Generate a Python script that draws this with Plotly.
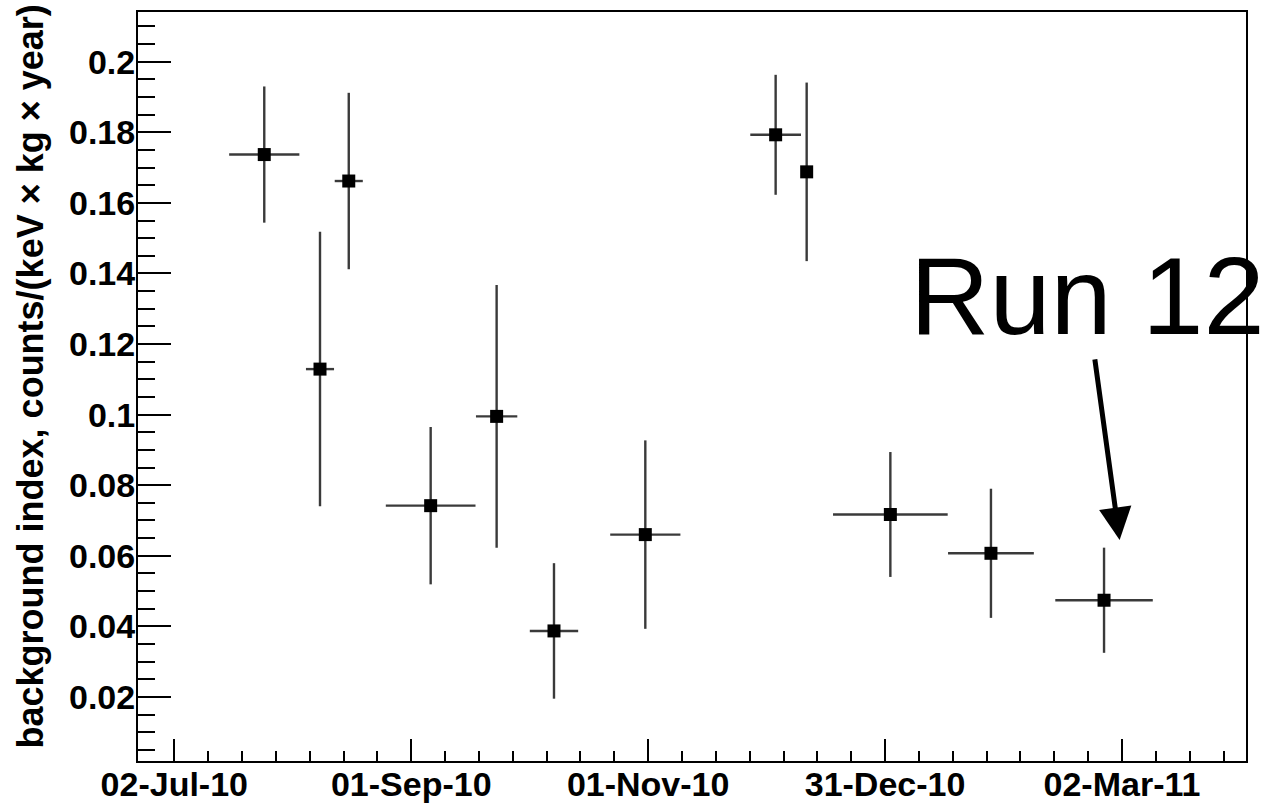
import pandas as pd
import plotly.graph_objects as go

# Run dates (bin centres) and half-widths of each run in days
run_dates = [
    "2010-07-25 16:00", "2010-08-08 23:00", "2010-08-16 08:00", "2010-09-06 08:00",
    "2010-09-23 06:00", "2010-10-07 23:00", "2010-10-31 09:00", "2010-12-03 19:00",
    "2010-12-11 18:00", "2011-01-02 05:00", "2011-01-28 00:00", "2011-02-26 00:00",
]
run_half_days = [9.0, 3.6, 3.6, 11.5, 5.3, 6.2, 9.0, 6.5, 0.4, 14.7, 11.0, 12.5]

# Background index and its uncertainty, counts/(keV x kg x year)
bkg_index = [0.1737, 0.1129, 0.1662, 0.0742, 0.0995, 0.0387,
             0.0660, 0.1793, 0.1688, 0.0717, 0.0607, 0.0474]
bkg_error = [0.0193, 0.0389, 0.0250, 0.0223, 0.0372, 0.0192,
             0.0267, 0.0170, 0.0253, 0.0177, 0.0183, 0.0149]

# Time-axis divisions and their labels
x_tick_times = ["2010-07-02 14:24", "2010-09-01 08:24", "2010-11-01 02:24",
                "2010-12-31 20:24", "2011-03-02 14:24"]
x_tick_text = ["02-Jul-10", "01-Sep-10", "01-Nov-10", "31-Dec-10", "02-Mar-11"]
x_range_times = ["2010-06-23 07:00", "2011-04-03 09:36"]

y_tick_vals = [0.02, 0.04, 0.06, 0.08, 0.10, 0.12, 0.14, 0.16, 0.18, 0.20]
y_tick_text = ["0.02", "0.04", "0.06", "0.08", "0.1", "0.12", "0.14", "0.16", "0.18", "0.2"]

EPOCH = pd.Timestamp("2010-07-01")


def to_days(times):
    """Convert date strings to days since the epoch (numeric time axis)."""
    return [(pd.Timestamp(t) - EPOCH) / pd.Timedelta(days=1) for t in times]


run_x = to_days(run_dates)
tick_x = to_days(x_tick_times)
range_x = to_days(x_range_times)

# seven sub-divisions per major division, starting at the first major tick
major_step = tick_x[1] - tick_x[0]
minor_step = major_step / 7
minor_x = []
t = tick_x[0]
while t <= range_x[1]:
    minor_x.append(t)
    t += minor_step

FONT = "Liberation Sans, Arial, Helvetica, sans-serif"
LINE = "#3a3a3a"

fig = go.Figure()
fig.add_trace(go.Scatter(
    x=run_x,
    y=bkg_index,
    mode="markers",
    marker=dict(symbol="square", size=13, color="black"),
    error_y=dict(type="data", array=bkg_error, visible=True,
                 color=LINE, thickness=2.4, width=0),
    error_x=dict(type="data", array=run_half_days, visible=True,
                 color=LINE, thickness=2.4, width=0),
    showlegend=False,
    hoverinfo="skip",
))

fig.update_layout(
    width=1266, height=804,
    margin=dict(l=138, r=20, t=12, b=43),
    paper_bgcolor="white", plot_bgcolor="white",
    font=dict(family=FONT, color="black"),
    xaxis=dict(
        range=range_x, automargin=False,
        tickmode="array", tickvals=tick_x, ticktext=x_tick_text,
        ticks="inside", ticklen=22, tickwidth=2, tickcolor="black",
        minor=dict(tickmode="array", tickvals=minor_x,
                   ticks="inside", ticklen=10, tickwidth=2, tickcolor="black",
                   showgrid=False),
        tickfont=dict(family=FONT, size=34, color="black", weight="bold"),
        ticklabelstandoff=-8,
        showline=True, linewidth=2, linecolor="black", mirror=True,
        showgrid=False, zeroline=False,
    ),
    yaxis=dict(
        range=[0.00184, 0.2141], automargin=False,
        tickmode="array", tickvals=y_tick_vals, ticktext=y_tick_text,
        ticks="inside", ticklen=33, tickwidth=2, tickcolor="black",
        minor=dict(tickmode="linear", tick0=0, dtick=0.005,
                   ticks="inside", ticklen=17, tickwidth=2, tickcolor="black",
                   showgrid=False),
        tickfont=dict(family=FONT, size=34, color="black", weight="bold"),
        ticklabelstandoff=-6,
        showline=True, linewidth=2, linecolor="black", mirror=True,
        showgrid=False, zeroline=False,
    ),
)

# Rotated y-axis title
fig.add_annotation(
    text="background index, counts/(keV \u00d7 kg \u00d7 year)",
    xref="paper", yref="paper", x=-0.0975, y=0.5134,
    xanchor="center", yanchor="middle", textangle=-90, showarrow=False,
    font=dict(family=FONT, size=36, color="black", weight="bold"),
)

# "Run 12" label and arrow pointing to the last run
fig.add_annotation(
    text="Run 12",
    xref="paper", yref="paper", x=0.8565, y=0.621,
    xanchor="center", yanchor="middle", showarrow=False,
    font=dict(family=FONT, size=110, color="black"),
)
fig.add_annotation(
    text="",
    xref="x", yref="y", x=to_days(["2011-03-02 00:00"])[0], y=0.0645,
    ax=-25, ay=-182, axref="pixel", ayref="pixel",
    showarrow=True, arrowhead=2, arrowsize=1.3, arrowwidth=5, arrowcolor="black",
)

fig.write_html("out.html")
